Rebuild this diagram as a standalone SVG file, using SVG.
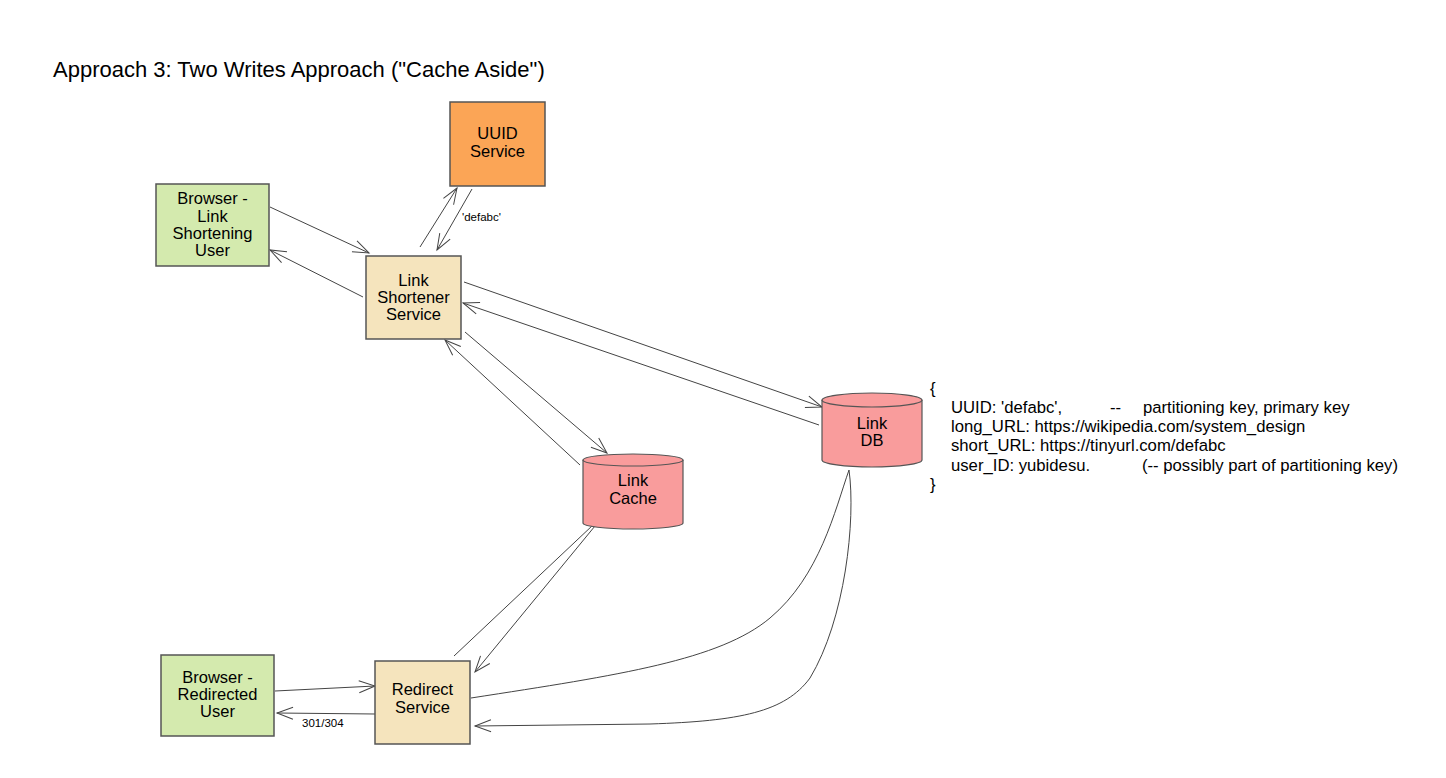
<svg xmlns="http://www.w3.org/2000/svg" width="1446" height="778" viewBox="0 0 1446 778">
<style>
  text { font-family: "Liberation Sans", Arial, Helvetica, sans-serif; fill: #000; }
  .lbl { font-size: 16.5px; text-anchor: middle; }
  .small { font-size: 11.5px; }
  .title { font-size: 22px; }
  .json { font-size: 16.7px; }
  .box { stroke: #555; stroke-width: 1.5; }
  .green { fill: #d4eaae; }
  .orange { fill: #fba556; }
  .beige { fill: #f5e4bd; }
  .cyl { fill: #f99c9c; stroke: #555; stroke-width: 1.2; }
  .edge { fill: none; stroke: #444; stroke-width: 1; }
</style>
<defs>
  <marker id="arrow" markerUnits="userSpaceOnUse" viewBox="-20 -10 22 20" refX="0" refY="0" markerWidth="22" markerHeight="20" orient="auto" overflow="visible">
    <path d="M -16 -6 L 0 0 L -16 6" fill="none" stroke="#444" stroke-width="1"/>
  </marker>
</defs>
<rect width="1446" height="778" fill="#fff"/>
<text class="title" x="53" y="77">Approach 3: Two Writes Approach ("Cache Aside")</text>

<g id="connectors">
  <path class="edge" d="M 270 207 L 369 253" marker-end="url(#arrow)"/>
  <path class="edge" d="M 363 297 L 270 250" marker-end="url(#arrow)"/>
  <path class="edge" d="M 420 247 L 457 188" marker-end="url(#arrow)"/>
  <path class="edge" d="M 472 189 L 437 250" marker-end="url(#arrow)"/>
  <text class="small" x="462" y="221">'defabc'</text>
  <path class="edge" d="M 464 282 L 822 407" marker-end="url(#arrow)"/>
  <path class="edge" d="M 819 425 L 463 303" marker-end="url(#arrow)"/>
  <path class="edge" d="M 465 332 L 607 453" marker-end="url(#arrow)"/>
  <path class="edge" d="M 580 465 L 445 340" marker-end="url(#arrow)"/>
  <path class="edge" d="M 454 656 L 593 525"/>
  <path class="edge" d="M 595 526 L 475 672" marker-end="url(#arrow)"/>
  <path class="edge" d="M 275 691 L 375 686" marker-end="url(#arrow)"/>
  <path class="edge" d="M 375 714 L 277 713" marker-end="url(#arrow)"/>
  <text class="small" x="302" y="727">301/304</text>
  <path class="edge" d="M 471 698 C 620 675, 720 660, 770 618 S 835 510, 849 470"/>
  <path class="edge" d="M 849 470 C 856 520, 845 620, 810 678 C 785 712, 740 721, 650 724 L 475 726" marker-end="url(#arrow)"/>
</g>

<g id="uuid-service">
  <rect class="box orange" x="450" y="102" width="95" height="84"/>
  <text class="lbl" x="497.5" y="139">UUID</text>
  <text class="lbl" x="497.5" y="157">Service</text>
</g>

<g id="browser-shortening">
  <rect class="box green" x="156" y="184" width="113" height="82"/>
  <text class="lbl" x="212.5" y="204">Browser -</text>
  <text class="lbl" x="212.5" y="222">Link</text>
  <text class="lbl" x="212.5" y="239">Shortening</text>
  <text class="lbl" x="212.5" y="256">User</text>
</g>

<g id="link-shortener-service">
  <rect class="box beige" x="366" y="256" width="95" height="83"/>
  <text class="lbl" x="413.5" y="286">Link</text>
  <text class="lbl" x="413.5" y="303">Shortener</text>
  <text class="lbl" x="413.5" y="320">Service</text>
</g>

<g id="link-db">
  <path class="cyl" d="M 822 400 A 50 7 0 0 1 922 400 L 922 460 A 50 7 0 0 1 822 460 Z"/>
  <path class="cyl" fill="none" d="M 822 400 A 50 7 0 0 0 922 400"/>
  <text class="lbl" x="872" y="429">Link</text>
  <text class="lbl" x="872" y="446">DB</text>
</g>

<g id="link-cache">
  <path class="cyl" d="M 583 460 A 50 6 0 0 1 683 460 L 683 523 A 50 6 0 0 1 583 523 Z"/>
  <path class="cyl" fill="none" d="M 583 460 A 50 6 0 0 0 683 460"/>
  <text class="lbl" x="633" y="486">Link</text>
  <text class="lbl" x="633" y="504">Cache</text>
</g>

<g id="browser-redirected">
  <rect class="box green" x="161" y="655" width="113" height="81"/>
  <text class="lbl" x="217.5" y="683">Browser -</text>
  <text class="lbl" x="217.5" y="700">Redirected</text>
  <text class="lbl" x="217.5" y="717">User</text>
</g>

<g id="redirect-service">
  <rect class="box beige" x="375" y="661" width="95" height="83"/>
  <text class="lbl" x="422.5" y="695">Redirect</text>
  <text class="lbl" x="422.5" y="713">Service</text>
</g>

<g id="schema-note">
  <text class="json" x="930" y="394">{</text>
  <text class="json" x="951" y="413">UUID: 'defabc',</text>
  <text class="json" x="1110" y="413">--</text>
  <text class="json" x="1143" y="413">partitioning key, primary key</text>
  <text class="json" x="951" y="432">long_URL: https://wikipedia.com/system_design</text>
  <text class="json" x="951" y="451">short_URL: https://tinyurl.com/defabc</text>
  <text class="json" x="951" y="471">user_ID: yubidesu.</text>
  <text class="json" x="1142" y="471">(-- possibly part of partitioning key)</text>
  <text class="json" x="930" y="490">}</text>
</g>
</svg>
